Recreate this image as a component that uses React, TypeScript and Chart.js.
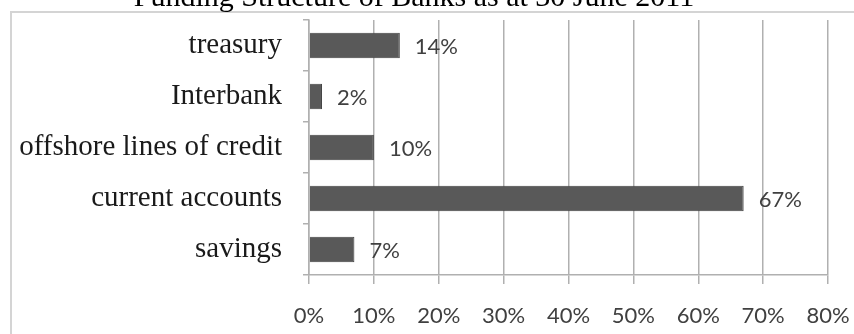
import React, { useEffect, useRef } from "react";
import { Chart, registerables } from "chart.js";

Chart.register(...registerables);

const titleText = "Funding Structure of Banks as at 30 June 2011";
const categories = ["treasury", "Interbank", "offshore lines of credit", "current accounts", "savings"];
const shares = [14, 2, 10, 67, 7];
const axisMin = 0;
const axisMax = 80;
const axisStep = 10;

const CW = 880;
const CH = 400;

const boxPlugin = {
  id: "boxPlugin",
  beforeDraw(chart: any) {
    const { ctx, chartArea } = chart;
    ctx.save();
    ctx.strokeStyle = "#d4d4d4";
    ctx.lineWidth = 2;
    ctx.strokeRect(chartArea.left - 298, chartArea.top - 8, 1000, 1000);
    ctx.restore();
  },
};

const labelPlugin = {
  id: "labelPlugin",
  afterDatasetsDraw(chart: any) {
    const { ctx } = chart;
    const meta = chart.getDatasetMeta(0);
    ctx.save();
    ctx.font = "22px Lato";
    ctx.fillStyle = "#404040";
    ctx.textAlign = "left";
    ctx.textBaseline = "middle";
    meta.data.forEach((bar: any, i: number) => {
      ctx.fillText(shares[i] + "%", bar.x + 15, bar.y + 1);
    });
    ctx.restore();
  },
};

export default function App() {
  const ref = useRef<HTMLCanvasElement | null>(null);
  useEffect(() => {
    if (!ref.current) return;
    const chart = new Chart(ref.current, {
      type: "bar",
      data: {
        labels: categories,
        datasets: [
          {
            data: shares,
            backgroundColor: "#595959",
            borderColor: "#404040",
            borderWidth: 1,
            barPercentage: 0.5,
            categoryPercentage: 1.0,
          },
        ],
      },
      options: {
        indexAxis: "y",
        responsive: false,
        animation: false,
        layout: { padding: { top: 0, left: 0, right: 52, bottom: 0 } },
        plugins: {
          legend: { display: false },
          tooltip: { enabled: false },
          title: {
            display: true,
            text: titleText,
            color: "#000000",
            font: { family: "Liberation Serif", size: 30, weight: "normal" },
            padding: { top: 20, bottom: 4 },
          },
        },
        scales: {
          x: {
            min: axisMin,
            max: axisMax,
            ticks: {
              stepSize: axisStep,
              callback: (v: any) => v + "%",
              color: "#404040",
              font: { family: "Lato", size: 22 },
              padding: 19,
            },
            grid: { color: "#b0b0b0", lineWidth: 1.5, tickLength: 9 },
            border: { color: "#b0b0b0", width: 1.5 },
            afterFit: (s: any) => {
              s.height = 85;
            },
          },
          y: {
            ticks: {
              color: "#1a1a1a",
              font: { family: "Liberation Serif", size: 29 },
              padding: 21,
            },
            grid: {
              drawOnChartArea: false,
              offset: true,
              color: "#b0b0b0",
              lineWidth: 1.5,
              tickLength: 6,
            },
            border: { color: "#b0b0b0", width: 1.5 },
            afterFit: (s: any) => {
              s.width = 309;
            },
          },
        },
      },
      plugins: [boxPlugin, labelPlugin],
    });
    return () => chart.destroy();
  }, []);
  return (
    <div style={{ position: "fixed", left: 0, top: -40, width: CW, height: CH, background: "#fff" }}>
      <canvas ref={ref} width={CW} height={CH} style={{ width: CW, height: CH, display: "block" }} />
    </div>
  );
}
